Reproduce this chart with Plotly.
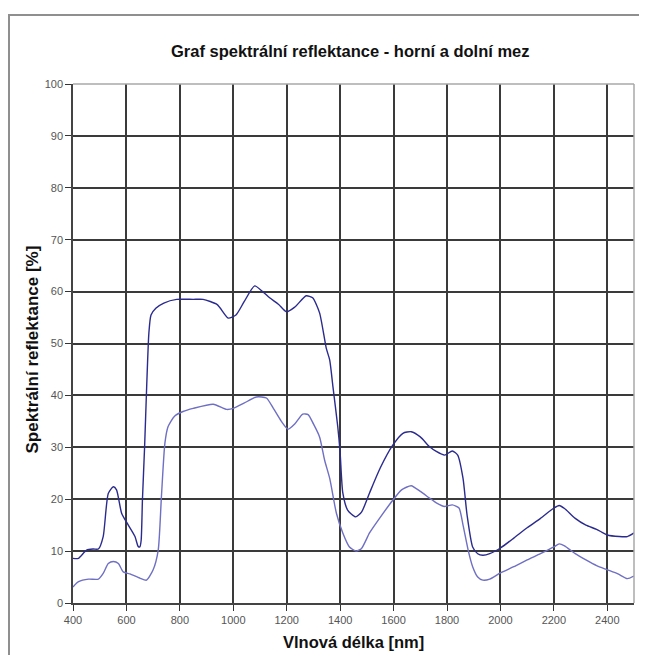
import plotly.graph_objects as go

# Wavelengths (nm) and reflectance (%) – upper limit (horní mez)
upper_x = [400, 420, 451, 476, 495, 513, 532, 551, 563, 582, 607, 632, 644, 650, 655, 660, 668, 676, 684,
           692, 710, 740, 788, 850, 887, 940, 981, 1010, 1040, 1080, 1110, 1136, 1170, 1199, 1230, 1273,
           1297, 1323, 1348, 1361, 1373, 1391, 1400, 1410, 1428, 1458, 1480, 1510, 1550, 1597, 1635,
           1666, 1700, 1735, 1760, 1791, 1820, 1840, 1860, 1875, 1896, 1915, 1934, 1960, 2000, 2050,
           2100, 2150, 2200, 2220, 2240, 2280, 2320, 2360, 2400, 2445, 2475, 2500]
upper_y = [8.6, 8.6, 10.2, 10.4, 10.4, 12.8, 21.1, 22.4, 21.8, 17.3, 15.0, 12.8, 10.9, 10.8, 12.0, 20.0,
           30.0, 42.0, 52.0, 55.5, 56.8, 57.8, 58.5, 58.5, 58.5, 57.5, 54.9, 55.5, 58.0, 61.1, 60.0, 58.8,
           57.5, 56.1, 57.0, 59.2, 58.8, 55.9, 49.1, 46.8, 41.7, 34.0, 28.9, 21.2, 17.9, 16.6, 17.5, 21.2,
           26.0, 30.4, 32.7, 33.0, 32.0, 30.1, 29.2, 28.5, 29.3, 28.5, 24.0, 17.0, 10.8, 9.5, 9.2, 9.5,
           10.6, 12.5, 14.5, 16.3, 18.3, 18.8, 18.2, 16.3, 15.0, 14.2, 13.1, 12.8, 12.8, 13.5]

# Lower limit (dolní mez)
lower_x = [400, 421, 458, 495, 513, 532, 551, 570, 588, 613, 650, 675, 700, 719, 731, 744, 756, 780,
           812, 850, 925, 975, 1000, 1040, 1087, 1124, 1150, 1180, 1205, 1230, 1260, 1280, 1300, 1323,
           1342, 1361, 1386, 1410, 1435, 1460, 1480, 1510, 1550, 1597, 1630, 1666, 1700, 1735, 1760,
           1791, 1820, 1845, 1860, 1880, 1896, 1915, 1934, 1960, 2000, 2050, 2100, 2150, 2200, 2220,
           2240, 2280, 2320, 2360, 2400, 2440, 2475, 2500]
lower_y = [3.1, 4.1, 4.6, 4.6, 5.7, 7.6, 8.0, 7.6, 6.0, 5.6, 4.8, 4.4, 6.4, 10.2, 20.5, 30.8, 34.0, 36.0,
           36.9, 37.5, 38.3, 37.3, 37.5, 38.5, 39.7, 39.5, 37.5, 35.0, 33.5, 34.5, 36.4, 36.3, 34.5, 32.0,
           27.5, 24.0, 17.3, 13.5, 10.8, 10.0, 10.5, 13.5, 16.5, 19.8, 21.8, 22.6, 21.5, 20.2, 19.3, 18.6,
           18.9, 18.3, 15.0, 10.0, 7.0, 5.0, 4.4, 4.6, 5.8, 7.0, 8.3, 9.5, 10.8, 11.4, 11.0, 9.5, 8.3,
           7.2, 6.4, 5.6, 4.7, 5.2]

x_ticks = [400, 600, 800, 1000, 1200, 1400, 1600, 1800, 2000, 2200, 2400]
y_ticks = [0, 10, 20, 30, 40, 50, 60, 70, 80, 90, 100]

title_text = "Graf spektrální reflektance - horní a dolní mez"
x_title = "Vlnová délka [nm]"
y_title = "Spektrální reflektance [%]"

FONT = "Liberation Sans, Arial, sans-serif"

# figure geometry (page body adds an 8px offset)
W, H = 639, 647
L, R, T, B = 65, 13, 76, 52
PW, PH = W - L - R, H - T - B


def px(xf):
    return (xf - L) / PW


def py(yf):
    return (H - B - yf) / PH


fig = go.Figure()
fig.add_trace(go.Scatter(x=lower_x, y=lower_y, mode="lines", name="dolní mez",
                         line=dict(color="#6f6fc4", width=1.4, shape="spline", smoothing=0.6)))
fig.add_trace(go.Scatter(x=upper_x, y=upper_y, mode="lines", name="horní mez",
                         line=dict(color="#2b2b8f", width=1.4, shape="spline", smoothing=0.6)))

axis_common = dict(ticks="outside", ticklen=6, tickwidth=1, tickcolor="#333", showgrid=True,
                   gridcolor="#3a3a3a", gridwidth=1.5, showline=True, linecolor="#444",
                   linewidth=1.5, mirror=False, zeroline=False,
                   tickfont=dict(size=11, color="#555"))

fig.update_layout(
    width=W, height=H,
    margin=dict(l=L, r=R, t=T, b=B),
    paper_bgcolor="white", plot_bgcolor="white",
    showlegend=False,
    font=dict(family=FONT, color="#222"),
    xaxis=dict(range=[400, 2500], tickvals=x_ticks, **axis_common),
    yaxis=dict(range=[0, 100], tickvals=y_ticks, **axis_common),
    annotations=[
        dict(text="<b>" + title_text + "</b>", xref="paper", yref="paper", x=px(342.5), y=py(43),
             xanchor="center", yanchor="middle", showarrow=False, font=dict(size=16.5, color="#111")),
        dict(text="<b>" + x_title + "</b>", xref="paper", yref="paper", x=px(345.5), y=py(634),
             xanchor="center", yanchor="middle", showarrow=False, font=dict(size=16.5, color="#111")),
        dict(text="<b>" + y_title + "</b>", xref="paper", yref="paper", x=px(24), y=py(341.5),
             xanchor="center", yanchor="middle", textangle=-90, showarrow=False,
             font=dict(size=17, color="#111")),
    ],
    shapes=[
        # outer chart frame (top and left edges only visible)
        dict(type="line", xref="paper", yref="paper", x0=px(0), x1=px(W + 20), y0=py(7), y1=py(7),
             line=dict(color="#8f8f8f", width=2), layer="below"),
        dict(type="line", xref="paper", yref="paper", x0=px(1), x1=px(1), y0=py(7), y1=py(H + 20),
             line=dict(color="#8f8f8f", width=2), layer="below"),
        # light plot-area border on top and right
        dict(type="line", xref="paper", yref="paper", x0=0, x1=1, y0=1, y1=1,
             line=dict(color="#a8a8a8", width=1.5), layer="above"),
        dict(type="line", xref="paper", yref="paper", x0=1, x1=1, y0=0, y1=1,
             line=dict(color="#a8a8a8", width=1.5), layer="above"),
    ],
)

fig.write_html("out.html")
